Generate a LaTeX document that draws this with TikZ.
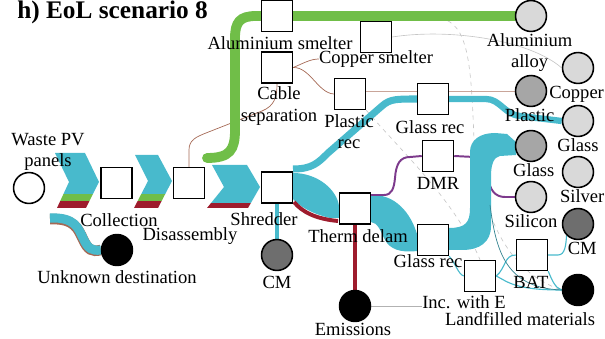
\documentclass[tikz,border=0pt]{standalone}
\usepackage{fontspec}
\setmainfont{Liberation Serif}
\usetikzlibrary{positioning,backgrounds}

\definecolor{flowteal}{RGB}{72,186,204}
\definecolor{flowgreen}{RGB}{112,190,72}
\definecolor{flowred}{RGB}{158,28,45}
\definecolor{flowpurple}{RGB}{125,58,140}
\definecolor{flowbrown}{RGB}{165,105,85}
\definecolor{sinklight}{RGB}{217,217,217}
\definecolor{sinkmid}{RGB}{166,166,166}
\definecolor{sinkdark}{RGB}{110,110,110}

\tikzset{
  procbox/.style={draw, fill=white, line width=1.1pt, minimum size=22pt, inner sep=0pt},
  sink/.style={circle, draw, line width=1.1pt, minimum size=22pt, inner sep=0pt},
  tag/.style={font=\rmfamily\fontsize{13.2}{15}\selectfont, inner sep=0pt, align=center},
  thinflow/.style={line width=0.8pt},
  faint/.style={draw=gray!45, line width=0.45pt}
}

\begin{document}
\begin{tikzpicture}[x=0.025cm, y=-0.025cm]
      \useasboundingbox (0,0) rectangle (605,339);
      \node[font=\rmfamily\bfseries\fontsize{18}{21}\selectfont, anchor=west, inner sep=0pt] at (17,12) (title) {h) EoL scenario 8};

      % process steps
      \node[procbox] at (116.5,183) (collect) {};
      \node[procbox] at (189,183) (disass) {};
      \node[procbox] at (277,187.5) (shred) {};
      \node[procbox] at (355,208.5) (thermdelam) {};
      \node[procbox] at (277,16) (alsmelt) {};
      \node[procbox] at (277,67.5) (cablesep) {};
      \node[procbox] at (376,37) (cusmelt) {};
      \node[procbox] at (350,94) (plasrec) {};
      \node[procbox] at (433,99) (glassrecA) {};
      \node[procbox] at (438,156) (dmr) {};
      \node[procbox] at (433,240) (glassrecB) {};
      \node[procbox] at (480,276) (incE) {};
      \node[procbox] at (532,255) (bat) {};

      % sources and sinks
      \node[sink, fill=white] at (29,188) (waste) {};
      \node[sink, fill=black] at (117,250) (unknown) {};
      \node[sink, fill=sinkdark] at (277,255) (cmA) {};
      \node[sink, fill=black] at (355,306) (emis) {};
      \node[sink, fill=black] at (578,290) (landfill) {};
      \node[sink, fill=sinklight] at (531,16) (alalloy) {};
      \node[sink, fill=sinklight] at (578,68) (copper) {};
      \node[sink, fill=sinkmid] at (531,91) (plastic) {};
      \node[sink, fill=sinklight] at (578,121) (glassA) {};
      \node[sink, fill=sinkmid] at (531,146) (glassB) {};
      \node[sink, fill=sinklight] at (578,172) (silver) {};
      \node[sink, fill=sinklight] at (531,197) (silicon) {};
      \node[sink, fill=sinkdark] at (578,224) (cmB) {};

      % labels
      \node[tag] at (48,152) (wastetxt) {Waste PV\\panels};
      \node[tag] at (119,220) (collecttxt) {Collection};
      \node[tag] at (190,236) (disasstxt) {Disassembly};
      \node[tag] at (117,277) (unknowntxt) {Unknown destination};
      \node[tag] at (264,219) (shredtxt) {Shredder};
      \node[tag] at (277,282) (cmAtxt) {CM};
      \node[tag] at (280,43) (alsmelttxt) {Aluminium smelter};
      \node[tag] at (279,106) (cableseptxt) {Cable\\separation};
      \node[tag] at (376,59) (cusmelttxt) {Copper smelter};
      \node[tag] at (349,132) (plasrectxt) {Plastic\\rec};
      \node[tag] at (430,127) (glassrecAtxt) {Glass rec};
      \node[tag] at (438,183) (dmrtxt) {DMR};
      \node[tag] at (358,236) (thermdelamtxt) {Therm delam};
      \node[tag] at (428,261) (glassrecBtxt) {Glass rec};
      \node[tag] at (464,302) (incEtxt) {Inc. with E};
      \node[tag] at (520,319) (landfilltxt) {Landfilled materials};
      \node[tag] at (353,329) (emistxt) {Emissions};
      \node[tag] at (531,282) (battxt) {BAT};
      \node[tag, below=1pt of alalloy, xshift=-1pt] (alalloytxt) {Aluminium\\alloy};
      \node[tag, below=1pt of copper, xshift=-1pt] (coppertxt) {Copper};
      \node[tag, below=1pt of plastic, xshift=-1pt] (plastictxt) {Plastic};
      \node[tag, below=1pt of glassA] (glassAtxt) {Glass};
      \node[tag, below=1pt of glassB, xshift=2pt] (glassBtxt) {Glass};
      \node[tag, below=1pt of silver, xshift=3pt] (silvertxt) {Silver};
      \node[tag, below=1pt of silicon] (silicontxt) {Silicon};
      \node[tag, below=1pt of cmB, xshift=3pt] (cmBtxt) {CM};

      \coordinate (greenstart) at (207,158);
      \coordinate (sfoot) at (490,205);
      \coordinate (slagtop) at (440,18);

      \begin{scope}[on background layer]
        % minor flows
        \path[faint] (cusmelt.east) .. controls (450,28) and (530,40) .. (copper.west);
        \path[faint, dashed] (slagtop) .. controls (468,24) and (471,60) .. (474,140) .. controls (480,200) and (500,270) .. (landfill.west);
        \path[faint, dashed] (plasrec.south east) .. controls (400,150) and (455,200) .. (incE.north);
        \path[faint, draw=gray!60] (emis.east) -- (emis.east -| incEtxt.west);
        \path[draw, flowbrown, line width=0.5pt] (disass.north) -- (189,150) .. controls (189,140) and (196,137) .. (206,133) -- (262,111) .. controls (274,106) and (277,98) .. (cablesep.south);
        \path[draw, flowbrown, line width=0.5pt] (cablesep.east) .. controls (302,64) and (310,59) .. (cusmelttxt.west);
        \path[draw, flowbrown, line width=0.5pt] (cablesep.east) .. controls (310,67) and (318,93) .. (plasrec.west);
        \path[draw, flowbrown!60, line width=0.7pt] (plasrec.east |- plastic.west) -- (plastic.west);

        % chevrons along the main line
        \begin{scope}
          \clip (55,153) -- (85,153) -- (99,182) -- (86,208) -- (57,208) -- (69,182) -- cycle;
          \fill[flowteal] (40,150) rectangle (110,194);
          \fill[flowgreen] (40,194) rectangle (110,201);
          \fill[flowred] (40,201) rectangle (110,210);
        \end{scope}
        \begin{scope}
          \clip (135,155) -- (158,155) -- (172,181) -- (158,208) -- (134,208) -- (148,181) -- cycle;
          \fill[flowteal] (120,150) rectangle (180,194);
          \fill[flowgreen] (120,194) rectangle (180,201);
          \fill[flowred] (120,201) rectangle (180,210);
        \end{scope}
        \begin{scope}
          \clip (212,165) -- (247,165) -- (260,187) -- (248,208) -- (207,208) -- (224,187) -- cycle;
          \fill[flowteal] (200,160) rectangle (265,203);
          \fill[flowred] (200,203) rectangle (265,210);
        \end{scope}

        % unknown destination
        \path[draw, flowbrown, line width=7.5pt, yshift=-0.8pt] (50,218) .. controls (75,217) and (78,228) .. (83,238) .. controls (88,249) and (92,251) .. (unknown.west);
        \path[draw, flowteal, line width=6.5pt] (50,218) .. controls (75,217) and (78,228) .. (83,238) .. controls (88,249) and (92,251) .. (unknown.west);

        % aluminium
        \path[draw, flowgreen, line width=7pt, line cap=round] (greenstart) .. controls (230,158) and (235,150) .. (235,130) -- (235,38) .. controls (235,22) and (240,16) .. (256,16) -- (alalloy.west);

        % shredder outputs
        \path[draw, flowteal, line width=3.5pt] (shred.south) -- (cmA.north);
        \path[draw, flowteal, line width=5pt] (293,169) .. controls (312,169) and (318,163) .. (328,153) -- (382,106) .. controls (390,99) and (396,99) .. (glassrecA.west);
        \path[draw, flowteal, line width=4.5pt] (glassrecA.east) -- (486,99) .. controls (500,99) and (505,115) .. (520,116) -- (glassA.west);
        \fill[flowteal] (293,173) .. controls (318,173) and (337,190) .. (339,206) -- (339,218) -- (330,218) .. controls (313,214) and (300,207) .. (293,199) -- cycle;
        \path[draw, flowred, line width=2.8pt] (294,202) .. controls (302,212) and (316,219) .. (338,221);

        % thermal delamination outputs
        \path[draw, flowred, line width=2.8pt] (thermdelam.south) -- (emis.north);
        \fill[flowteal] (371,195) .. controls (396,194) and (411,214) .. (417,234) -- (417,251) .. controls (400,253) and (390,249) .. (385,240) .. controls (380,230) and (378,223) .. (371,222) -- cycle;
        \path[draw, flowpurple, line width=1.4pt] (371,195) -- (384,195) .. controls (392,195) and (394,188) .. (395,178) .. controls (396,164) and (400,157) .. (410,157) -- (dmr.west);
        \path[draw, flowpurple, line width=1.4pt] (dmr.east) -- (474,157) .. controls (484,157) and (486,165) .. (488,178) .. controls (490,190) and (495,197) .. (505,197) -- (silicon.west);

        % glass
        \fill[flowteal] (449,228) .. controls (466,228) and (470,222) .. (470,208) -- (470,152) .. controls (470,140) and (480,133) .. (495,133) -- (507,134) -- (516,142) -- (516,155) -- (500,156) .. controls (494,157) and (491,164) .. (491,176) -- (491,226) .. controls (491,242) and (480,250) .. (462,250) -- (449,250) -- cycle;

        % residues
        \path[draw, flowteal, thinflow] (glassrecB.south east) .. controls (456,264) and (458,274) .. (incE.west);
        \path[draw, flowteal, thinflow] (incE.east) .. controls (506,268) and (504,255) .. (bat.west);
        \path[draw, flowteal, thinflow] (incE.east) .. controls (508,282) and (515,290) .. (landfill.west);
        \path[draw, flowteal, thinflow] (bat.east) -- (558,255) .. controls (565,255) and (566,245) .. (cmB.south west);
        \path[draw, flowteal, thinflow] (bat.south east) .. controls (552,280) and (555,288) .. (landfill.west);
        \path[draw, flowteal!70!black, line width=0.5pt] (sfoot) .. controls (496,250) and (505,288) .. (landfill.west);
      \end{scope}
\end{tikzpicture}
\end{document}
